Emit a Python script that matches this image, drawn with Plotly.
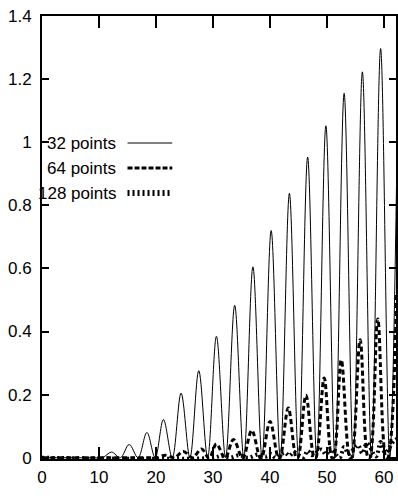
import plotly.graph_objects as go

# ---- data ----
# 32 points curve: zeros and peaks of the arches
x32 = [0, 9.0, 10.6, 12.2, 13.75, 15.3, 16.85, 18.4, 19.85, 21.3, 22.85, 24.4,
       25.95, 27.5, 29.05, 30.6, 32.2, 33.8, 35.4, 37.0, 38.6, 40.2, 41.8,
       43.4, 45.0, 46.6, 48.2, 49.8, 51.4, 53.0, 54.6, 56.2, 57.8, 59.4, 61.0,
       62.6]
y32 = [0, 0, 0, 0.018, 0, 0.042, 0, 0.080, 0, 0.121, 0, 0.205,
       0, 0.276, 0, 0.385, 0, 0.483, 0, 0.605, 0, 0.720, 0,
       0.838, 0, 0.953, 0, 1.052, 0, 1.155, 0, 1.223, 0, 1.297, 0,
       1.36]

# 64 points curve (each zero touches the axis over a short stretch)
x64 = [0, 18.4, 19.85, 20.15, 21.6, 23.05, 23.35, 24.8, 26.25, 26.55, 28.0,
       29.15, 29.45, 30.6, 31.95, 32.25, 33.6, 35.05, 35.35, 36.8, 38.25,
       38.55, 40.0, 41.45, 41.75, 43.2, 44.6, 44.9, 46.3, 47.75, 48.05, 49.5,
       50.85, 51.15, 52.5, 54.0, 54.3, 55.8, 57.2, 57.5, 58.9, 60.35, 60.65,
       62.2]
y64 = [0, 0, 0, 0, 0.008, 0, 0, 0.020, 0, 0, 0.028,
       0, 0, 0.044, 0, 0, 0.058, 0, 0, 0.087, 0,
       0, 0.115, 0, 0, 0.158, 0, 0, 0.198, 0, 0, 0.253,
       0, 0, 0.310, 0, 0, 0.374, 0, 0, 0.440, 0, 0,
       0.525]

# 128 points curve
x128 = [0, 30.0, 31.5, 33.0, 34.6, 36.2, 37.8, 39.4, 40.2, 41.0, 42.6, 43.4,
        44.2, 45.8, 46.6, 47.4, 49.0, 49.8, 50.6, 52.2, 53.0, 53.8, 55.4,
        56.2, 57.0, 58.6, 59.4, 60.2, 61.8, 62.4]
y128 = [0, 0, 0.006, 0, 0.008, 0, 0.010, 0.004, 0.012, 0, 0.016, 0.006,
        0.018, 0, 0.022, 0.008, 0.026, 0.010, 0.030, 0, 0.034, 0.012, 0.040,
        0.014, 0.046, 0.004, 0.050, 0.016, 0.055, 0.060]

names = ["32 points", "64 points", "128 points"]
x_ticks = [0, 10, 20, 30, 40, 50, 60]
y_ticks = [0, 0.2, 0.4, 0.6, 0.8, 1.0, 1.2, 1.4]

FONT = "Liberation Sans, Arial, sans-serif"
FS = 17

fig = go.Figure()
fig.add_trace(go.Scatter(x=x32, y=y32, mode="lines", name=names[0],
                         line=dict(color="black", width=1, shape="spline",
                                   smoothing=1.0, simplify=False)))
fig.add_trace(go.Scatter(x=x64, y=y64, mode="lines", name=names[1],
                         line=dict(color="black", width=3, dash="5px,3px",
                                   shape="spline", smoothing=1.0, simplify=False)))
fig.add_trace(go.Scatter(x=x128, y=y128, mode="lines", name=names[2],
                         line=dict(color="black", width=4, dash="2px,3px",
                                   shape="spline", smoothing=1.0, simplify=False)))

# hand-made legend (text right-aligned, sample line to the right)
W = 398
H = 502
ml, mr, mt, mb = 42, 0, 16, 43
pw = W - ml - mr
ph = H - mt - mb


def px_x(p):
    return (p - ml) / pw


def px_y(p):
    return (H - mb - p) / ph


rows = [143, 168, 193]
styles = [dict(width=1, dash="solid"), dict(width=3, dash="5px,2px"),
          dict(width=6, dash="2px,3px")]
for name, ry, st in zip(names, rows, styles):
    fig.add_annotation(x=px_x(118), y=px_y(ry), xref="paper", yref="paper",
                       text=name, showarrow=False, xanchor="right",
                       yanchor="middle", font=dict(family=FONT, size=FS, color="black"))
    fig.add_shape(type="line", xref="paper", yref="paper",
                  x0=px_x(128), x1=px_x(173), y0=px_y(ry), y1=px_y(ry),
                  line=dict(color="black", width=st["width"], dash=st["dash"]))

fig.update_layout(
    width=W, height=H,
    margin=dict(l=ml, r=mr, t=mt, b=mb, pad=0),
    plot_bgcolor="white", paper_bgcolor="white",
    showlegend=False,
    font=dict(family=FONT, size=FS, color="black"),
)
fig.update_xaxes(range=[0, 62.1], tickvals=x_ticks, ticks="inside", ticklen=12,
                 tickwidth=1.5, tickcolor="black", showline=True, linecolor="black",
                 linewidth=2, mirror="ticks", showgrid=False, zeroline=False,
                 ticklabelstandoff=2)
fig.update_yaxes(range=[-0.004, 1.4], tickvals=y_ticks, ticks="inside", ticklen=7,
                 tickwidth=1.5, tickcolor="black", showline=True, linecolor="black",
                 linewidth=2, mirror="ticks", showgrid=False, zeroline=False,
                 ticklabelstandoff=5)

fig.write_html("out.html", config={"displayModeBar": False},
               post_script="document.body.style.margin='0px';document.body.style.overflow='hidden';")
